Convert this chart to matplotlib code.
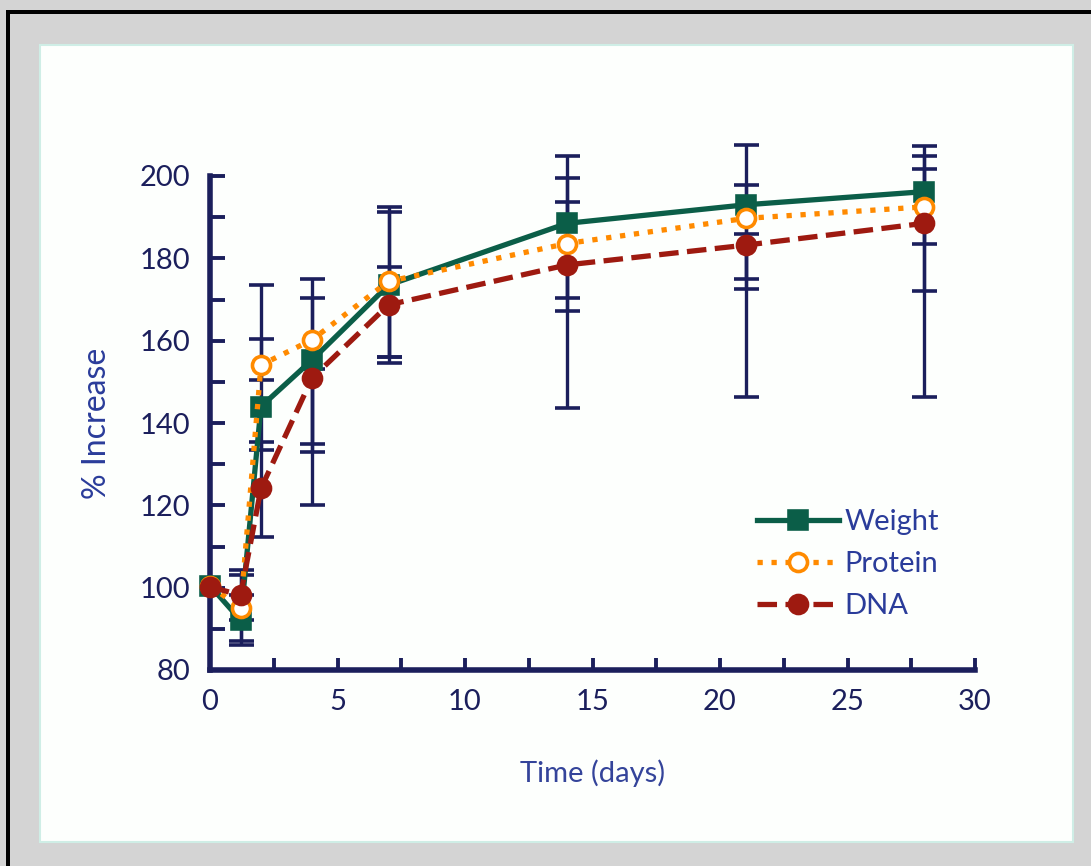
import numpy as np
import matplotlib
matplotlib.use("Agg")
import matplotlib.pyplot as plt
from matplotlib.patches import Rectangle

plt.rcParams['font.family'] = ['Lato', 'DejaVu Sans']

# time points (days)
days = [0, 1.2, 2, 4, 7, 14, 21, 28]

# % increase
weight = [100.5, 92.1, 144.0, 155.3, 173.5, 188.5, 193.0, 196.2]
protein = [100.5, 95.0, 154.1, 160.2, 174.4, 183.6, 189.7, 192.5]
dna = [100.2, 98.2, 124.1, 150.9, 168.7, 178.4, 183.2, 188.5]

# error bar ends (low, high), first point has none
weight_lo = [100.5, 86.1, 133.4, 135.0, 154.5, 170.3, 172.5, 183.4]
weight_hi = [100.5, 98.1, 173.5, 175.1, 192.5, 204.8, 207.5, 207.3]
protein_lo = [100.5, 87.0, 150.4, 133.0, 156.1, 167.1, 174.9, 172.1]
protein_hi = [100.5, 103.1, 160.4, 170.3, 191.3, 199.4, 197.8, 204.8]
dna_lo = [100.2, 92.2, 112.4, 120.1, 156.1, 143.6, 146.2, 146.2]
dna_hi = [100.2, 104.4, 135.5, 153.0, 177.8, 193.8, 186.0, 201.6]

labels = ['Weight', 'Protein', 'DNA']

navy = '#1b1f5c'
green = '#0b5e48'
orange = '#ff8a00'
red = '#9e1a10'

fig = plt.figure(figsize=(10.91, 8.66), dpi=100)
fig.patch.set_facecolor('#d4d4d4')

# white panel and black edges of the screenshot
fig.patches.append(Rectangle((40 / 1091, 1 - 842 / 866), 1033 / 1091, 797 / 866,
                             transform=fig.transFigure, facecolor='#fdfffd',
                             edgecolor='#cfeee6', lw=1.5, zorder=0))
fig.patches.append(Rectangle((6 / 1091, 1 - 14 / 866), 1, 4 / 866,
                             transform=fig.transFigure, facecolor='black', lw=0, zorder=0))
fig.patches.append(Rectangle((6 / 1091, 0), 4 / 1091, 1 - 10 / 866,
                             transform=fig.transFigure, facecolor='black', lw=0, zorder=0))

ax = fig.add_axes([210 / 1091, 1 - 670 / 866, 765 / 1091, 494 / 866])
ax.set_zorder(2)
ax.set_facecolor('none')

series = [
    (weight, weight_lo, weight_hi, green, '-', 's', green),
    (protein, protein_lo, protein_hi, orange, ':', 'o', 'white'),
    (dna, dna_lo, dna_hi, red, '--', 'o', red),
]

d = np.array(days)
for vals, lo, hi, col, ls, mk, fc in series:
    v = np.array(vals)
    err = [v[1:] - np.array(lo[1:]), np.array(hi[1:]) - v[1:]]
    eb = ax.errorbar(d[1:], v[1:], yerr=err, fmt='none', ecolor=navy,
                     elinewidth=2.4, capsize=9, capthick=2.6, zorder=2)
    for a in eb.lines[1] + eb.lines[2]:
        a.set_clip_on(False)

handles = []
for (vals, lo, hi, col, ls, mk, fc), lab in zip(series, labels):
    ln, = ax.plot(days, vals, color=col, ls=ls, lw=3.8, marker=mk, ms=13,
                  mfc=fc, mec=col, mew=2.6, label=lab, zorder=3, clip_on=False)
    handles.append(ln)

ax.set_xlim(0, 30)
ax.set_ylim(80, 200)
ax.set_xticks(np.arange(0, 31, 5))
ax.set_xticks(np.arange(2.5, 30, 5), minor=True)
ax.set_yticks(np.arange(80, 201, 20))
ax.set_yticks(np.arange(90, 200, 20), minor=True)

for s in ['top', 'right']:
    ax.spines[s].set_visible(False)
for s in ['left', 'bottom']:
    ax.spines[s].set_color(navy)
    ax.spines[s].set_linewidth(4)

ax.tick_params(axis='both', which='both', direction='in', color=navy,
               width=2.8, labelcolor=navy, labelsize=21)
ax.tick_params(axis='y', which='both', length=11, pad=14)
ax.tick_params(axis='x', which='both', length=9, pad=14)

ax.set_xlabel('Time (days)', fontsize=21, color='#34449a', labelpad=32)
ax.set_ylabel('% Increase', fontsize=23, color='#2a3c9a', labelpad=20)

leg = ax.legend(handles=handles, loc='upper left', bbox_to_anchor=(0.7, 0.35),
                frameon=False, fontsize=21, handlelength=2.8, handletextpad=0.2,
                labelspacing=0.55, borderaxespad=0)
for t in leg.get_texts():
    t.set_color('#2a3c9a')

fig.savefig('out.png', dpi=100, facecolor=fig.get_facecolor())
